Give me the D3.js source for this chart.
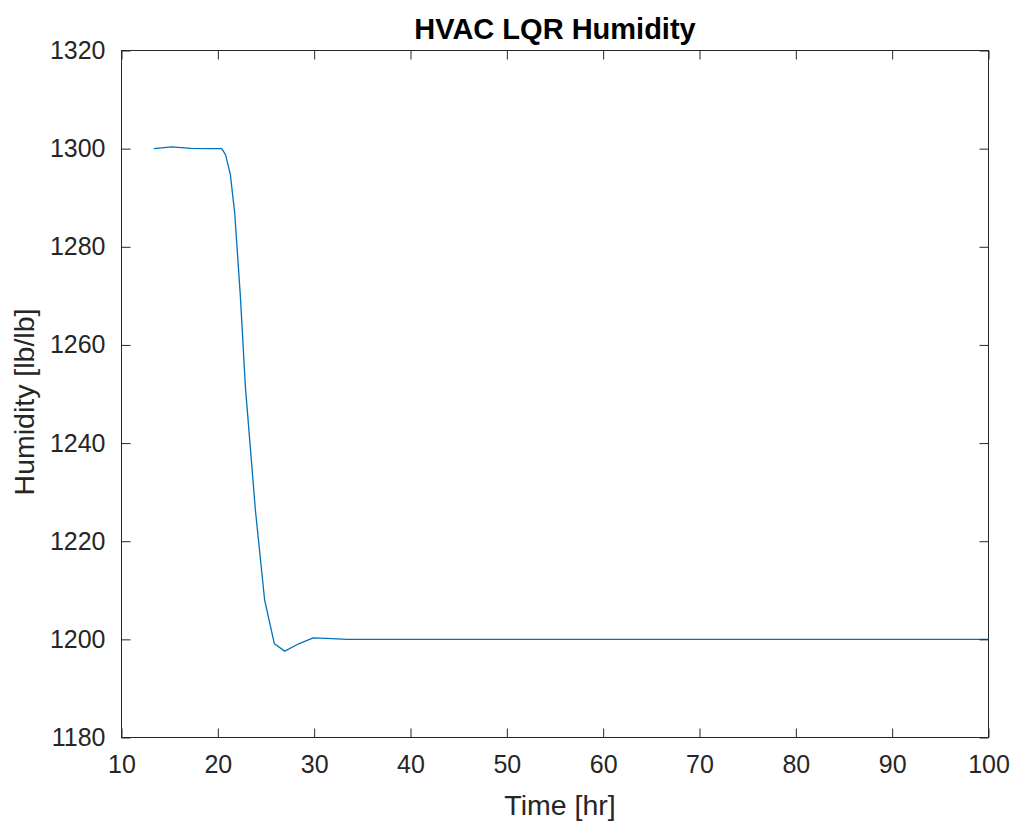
<!DOCTYPE html>
<html>
<head>
<meta charset="utf-8">
<script src="https://cdn.jsdelivr.net/npm/d3@7"></script>
<style>
  html, body { margin: 0; padding: 0; background: #fff; }
  svg { display: block; font-family: "Liberation Sans", Arial, Helvetica, sans-serif; }
</style>
</head>
<body>
<svg id="chart" width="1013" height="823"></svg>
<script>
const timeHr = [13.35, 15.2, 17.2, 19.2, 20.4, 20.8, 21.3, 21.75, 22.34, 22.86, 23.9, 24.86, 25.87, 26.94, 28.4, 29.9, 31.3, 33.4, 35.5, 40, 50, 60, 70, 80, 90, 100];
const humidity = [1300, 1300.35, 1300.05, 1300, 1300, 1298.8, 1294.7, 1286.9, 1269.9, 1251.5, 1226.3, 1208, 1199.1, 1197.6, 1199.1, 1200.3, 1200.2, 1200, 1200, 1200, 1200, 1200, 1200, 1200, 1200, 1200];
const xTicks = [10, 20, 30, 40, 50, 60, 70, 80, 90, 100];
const yTicks = [1180, 1200, 1220, 1240, 1260, 1280, 1300, 1320];
const titleText = "HVAC LQR Humidity";
const xLabel = "Time [hr]";
const yLabel = "Humidity [lb/lb]";

const W = 1013, H = 823;
const m = {left: 121.5, top: 50.5, right: 988.5, bottom: 737.5};
const svg = d3.select("#chart");
const x = d3.scaleLinear().domain([10, 100]).range([m.left, m.right]);
const y = d3.scaleLinear().domain([1180, 1320]).range([m.bottom, m.top]);
const axisColor = "#262626";
const tickLen = 9;

// Line
const line = d3.line().x((d, i) => x(timeHr[i])).y(d => y(d));
svg.append("path").datum(humidity)
  .attr("d", line)
  .attr("fill", "none")
  .attr("stroke", "#0072BD")
  .attr("stroke-width", 1.3)
  .attr("stroke-linejoin", "round");

// Axes with inward ticks
function styleAxis(g) {
  g.selectAll("path.domain").remove();
  g.selectAll(".tick line").attr("stroke", axisColor).attr("stroke-width", 1);
  g.selectAll(".tick text").attr("fill", axisColor).attr("font-size", 25)
    .attr("font-family", '"Liberation Sans", Arial, sans-serif');
}
const gB = svg.append("g").attr("transform", `translate(0,${m.bottom})`)
  .call(d3.axisBottom(x).tickValues(xTicks).tickSizeInner(-tickLen).tickSizeOuter(0).tickPadding(18).tickFormat(d3.format("d")));
styleAxis(gB);
const gT = svg.append("g").attr("transform", `translate(0,${m.top})`)
  .call(d3.axisTop(x).tickValues(xTicks).tickSizeInner(-tickLen).tickSizeOuter(0).tickFormat(""));
styleAxis(gT);
const gL = svg.append("g").attr("transform", `translate(${m.left},0)`)
  .call(d3.axisLeft(y).tickValues(yTicks).tickSizeInner(-tickLen).tickSizeOuter(0).tickPadding(16).tickFormat(d3.format("d")));
styleAxis(gL);
const gR = svg.append("g").attr("transform", `translate(${m.right},0)`)
  .call(d3.axisRight(y).tickValues(yTicks).tickSizeInner(-tickLen).tickSizeOuter(0).tickFormat(""));
styleAxis(gR);

// Box
svg.append("rect")
  .attr("x", m.left).attr("y", m.top)
  .attr("width", m.right - m.left).attr("height", m.bottom - m.top)
  .attr("fill", "none").attr("stroke", axisColor).attr("stroke-width", 1);

// Title & labels
svg.append("text").attr("x", (m.left + m.right) / 2).attr("y", 39)
  .attr("text-anchor", "middle").attr("font-size", 29).attr("font-weight", "bold")
  .attr("fill", "#000").text(titleText);
svg.append("text").attr("x", (m.left + m.right) / 2 + 5).attr("y", 815)
  .attr("text-anchor", "middle").attr("font-size", 28.5)
  .attr("fill", axisColor).text(xLabel);
svg.append("text").attr("transform", `translate(34,402) rotate(-90)`)
  .attr("text-anchor", "middle").attr("font-size", 28.5)
  .attr("fill", axisColor).text(yLabel);
</script>
</body>
</html>
